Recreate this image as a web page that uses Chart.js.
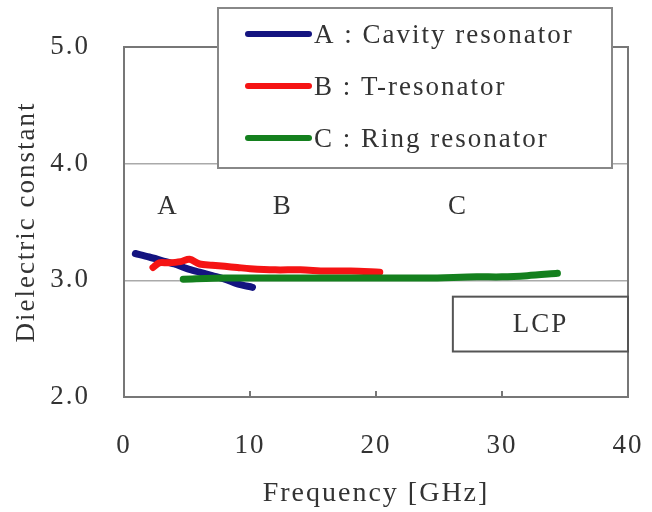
<!DOCTYPE html>
<html>
<head>
<meta charset="utf-8">
<script src="https://cdn.jsdelivr.net/npm/chart.js@4.4.1/dist/chart.umd.min.js"></script>
<style>
  html, body { margin: 0; padding: 0; background: #fff; }
  #wrap { width: 652px; height: 512px; }
</style>
</head>
<body>
<div id="wrap"><canvas id="myChart" width="652" height="512"></canvas></div>
<script>
// values (frequency in GHz, dielectric constant)
const seriesNames = ['A : Cavity resonator', 'B : T-resonator', 'C : Ring resonator'];
const seriesColors = ['#141480', '#f51414', '#14801e'];

const freqA = [0.9, 2, 3, 4, 5, 6, 7, 8, 9, 10.2];
const epsA = [3.23, 3.20, 3.17, 3.14, 3.10, 3.07, 3.04, 3.01, 2.97, 2.94];

const freqB = [2.3, 2.8, 3.5, 4.5, 5.2, 6, 7, 8, 9, 10, 12, 14, 16, 18, 20.3];
const epsB = [3.11, 3.15, 3.15, 3.16, 3.18, 3.14, 3.13, 3.12, 3.11, 3.10, 3.09, 3.09, 3.08, 3.08, 3.07];

const freqC = [4.7, 8, 12, 16, 20, 24, 28, 30, 32, 34.4];
const epsC = [3.01, 3.02, 3.02, 3.02, 3.02, 3.02, 3.03, 3.03, 3.04, 3.06];

const xTicks = [0, 10, 20, 30, 40];
const yTicks = [2, 3, 4, 5];

// region labels and the LCP box, in data units
const regionLabels = ['A', 'B', 'C'];
const regionX = [3.5, 12.6, 26.5];
const regionY = 3.63;
const lcpText = 'LCP';
const lcpBox = [26.1, 2.86, 40, 2.39];

const fontFamily = "'Liberation Serif', 'Times New Roman', serif";
const textColor = '#333';

function toPoints(xs, ys) {
    return xs.map((x, i) => ({ x: x, y: ys[i] }));
}

// the reference text is set wide, so space the letters a little
const spacingPlugin = {
    id: 'spacing',
    beforeUpdate(chart) { chart.ctx.letterSpacing = '2px'; },
    beforeDraw(chart) { chart.ctx.letterSpacing = '2px'; }
};

const decorPlugin = {
    id: 'decor',
    afterDraw(chart) {
        const ctx = chart.ctx;
        const xs = chart.scales.x;
        const ys = chart.scales.y;
        const area = chart.chartArea;
        ctx.save();

        // plot frame
        ctx.strokeStyle = '#777';
        ctx.lineWidth = 2;
        ctx.strokeRect(area.left, area.top, area.right - area.left, area.bottom - area.top);

        // inward tick marks on the x axis
        xTicks.slice(1, -1).forEach(v => {
            const px = xs.getPixelForValue(v);
            ctx.beginPath();
            ctx.moveTo(px, area.bottom);
            ctx.lineTo(px, area.bottom - 6);
            ctx.stroke();
        });

        // A / B / C labels
        ctx.fillStyle = textColor;
        ctx.font = '27px ' + fontFamily;
        ctx.textAlign = 'center';
        ctx.textBaseline = 'middle';
        regionLabels.forEach((t, i) => {
            ctx.fillText(t, xs.getPixelForValue(regionX[i]), ys.getPixelForValue(regionY));
        });

        // LCP box
        const bx1 = xs.getPixelForValue(lcpBox[0]);
        const by1 = ys.getPixelForValue(lcpBox[1]);
        const bx2 = xs.getPixelForValue(lcpBox[2]);
        const by2 = ys.getPixelForValue(lcpBox[3]);
        ctx.fillStyle = '#fff';
        ctx.fillRect(bx1, by1, bx2 - bx1, by2 - by1);
        ctx.strokeStyle = '#555';
        ctx.lineWidth = 2;
        ctx.strokeRect(bx1, by1, bx2 - bx1, by2 - by1);
        ctx.fillStyle = textColor;
        ctx.fillText(lcpText, (bx1 + bx2) / 2, (by1 + by2) / 2 + 1);

        // legend box
        const lx = 218, ly = 8, lw = 394, lh = 160;
        ctx.fillStyle = '#fff';
        ctx.fillRect(lx, ly, lw, lh);
        ctx.strokeStyle = '#888';
        ctx.lineWidth = 2;
        ctx.strokeRect(lx, ly, lw, lh);
        ctx.textAlign = 'left';
        chart.data.datasets.forEach((ds, i) => {
            const yy = 34 + i * 52;
            ctx.strokeStyle = ds.borderColor;
            ctx.lineWidth = 6;
            ctx.lineCap = 'round';
            ctx.beginPath();
            ctx.moveTo(248, yy);
            ctx.lineTo(309, yy);
            ctx.stroke();
            ctx.fillStyle = textColor;
            ctx.fillText(ds.label, 314, yy + 2);
        });
        ctx.restore();
    }
};

const ctx = document.getElementById('myChart').getContext('2d');
const myChart = new Chart(ctx, {
    type: 'scatter',
    data: {
        datasets: [
            { label: seriesNames[0], data: toPoints(freqA, epsA), borderColor: seriesColors[0], order: 3 },
            { label: seriesNames[1], data: toPoints(freqB, epsB), borderColor: seriesColors[1], order: 2 },
            { label: seriesNames[2], data: toPoints(freqC, epsC), borderColor: seriesColors[2], order: 1 }
        ].map(ds => Object.assign(ds, {
            showLine: true,
            borderWidth: 7,
            pointRadius: 0,
            tension: 0.3,
            borderCapStyle: 'round',
            borderJoinStyle: 'round',
            backgroundColor: ds.borderColor
        }))
    },
    options: {
        responsive: false,
        animation: false,
        layout: { padding: { left: 0, top: 47, right: 24, bottom: 0 } },
        plugins: {
            legend: { display: false },
            tooltip: { enabled: false }
        },
        scales: {
            x: {
                type: 'linear',
                min: 0,
                max: 40,
                afterBuildTicks: scale => { scale.ticks = xTicks.map(v => ({ value: v })); },
                afterFit: scale => {
                    scale.height = 115;
                    scale.paddingLeft = 0;
                    scale.paddingRight = 0;
                },
                grid: { display: false },
                border: { display: false },
                ticks: {
                    color: textColor,
                    font: { family: fontFamily, size: 27 },
                    padding: 25,
                    maxRotation: 0
                },
                title: {
                    display: true,
                    text: 'Frequency [GHz]',
                    color: textColor,
                    font: { family: fontFamily, size: 28 },
                    padding: { top: 0, bottom: 2 }
                }
            },
            y: {
                type: 'linear',
                min: 2,
                max: 5,
                afterBuildTicks: scale => { scale.ticks = yTicks.map(v => ({ value: v })); },
                afterFit: scale => {
                    scale.width = 124;
                    scale.paddingTop = 0;
                    scale.paddingBottom = 0;
                },
                grid: { color: '#aaa', lineWidth: 1.5, drawTicks: false },
                border: { display: false },
                ticks: {
                    color: textColor,
                    font: { family: fontFamily, size: 27 },
                    padding: 34,
                    callback: v => v.toFixed(1)
                },
                title: {
                    display: true,
                    text: 'Dielectric constant',
                    color: textColor,
                    font: { family: fontFamily, size: 27 },
                    padding: { top: 11, bottom: 0 }
                }
            }
        }
    },
    plugins: [spacingPlugin, decorPlugin]
});
</script>
</body>
</html>
